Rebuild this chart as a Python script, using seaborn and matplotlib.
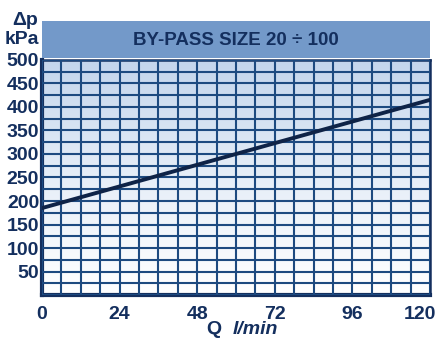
import numpy as np
import pandas as pd
import matplotlib
matplotlib.use("Agg")
import matplotlib.pyplot as plt
import matplotlib.transforms as mtransforms
import seaborn as sns

# data
flow = [0, 120]
dp = [185, 415]
x_ticks = [0, 24, 48, 72, 96, 120]
y_ticks = [50, 100, 150, 200, 250, 300, 350, 400, 450, 500]
title = "BY-PASS SIZE 20 \u00f7 100"

navy = "#142f5e"
grid_col = "#1d4a80"

sns.set_theme(style="white")
plt.rcParams['font.family'] = ['Liberation Sans', 'DejaVu Sans']

fig = plt.figure(figsize=(4.39, 3.40), dpi=100)
ax = fig.add_axes([0.0957, 0.132, 0.884, 0.692])

# gradient background
grad = np.linspace(1, 0, 256).reshape(-1, 1)
cmap = matplotlib.colors.LinearSegmentedColormap.from_list(
    "bg", ["#ffffff", "#e6eef8", "#c3d5ec"])
ax.imshow(grad, extent=[0, 120, 0, 500], aspect="auto", cmap=cmap,
          origin="upper", zorder=0)

ax.set_xlim(0, 120)
ax.set_ylim(0, 500)
ax.set_xticks(np.arange(0, 121, 6), minor=True)
ax.set_yticks(np.arange(0, 501, 25), minor=True)
ax.set_xticks(x_ticks)
ax.set_yticks(y_ticks)
ax.grid(which="both", color=grid_col, lw=1.5, zorder=1)
ax.set_axisbelow(False)

df = pd.DataFrame({"Q": flow, "dp": dp})
sns.lineplot(data=df, x="Q", y="dp", color="#0e2347", lw=2.8, ax=ax, zorder=3)

ax.tick_params(which="both", length=0)
ax.tick_params(axis="x", pad=8)
ax.tick_params(axis="y", pad=2)
for lab in ax.get_xticklabels() + ax.get_yticklabels():
    lab.set_fontsize(14)
    lab.set_fontweight("bold")
    lab.set_color(navy)
last = ax.get_xticklabels()[-1]
last.set_horizontalalignment("right")
last.set_transform(last.get_transform() +
                   mtransforms.ScaledTranslation(6 / 100, 0, fig.dpi_scale_trans))
ax.set_xlabel("")
ax.set_ylabel("")

for side in ["left", "bottom"]:
    ax.spines[side].set_linewidth(3)
    ax.spines[side].set_color(navy)
for side in ["right", "top"]:
    ax.spines[side].set_linewidth(1.8)
    ax.spines[side].set_color(navy)

# header band
hdr = fig.add_axes([0.0957, 0.828, 0.884, 0.11])
hdr.set_facecolor("#7399c9")
hdr.set_xticks([])
hdr.set_yticks([])
for s in hdr.spines.values():
    s.set_visible(False)
hdr.text(0.5, 0.48, title, ha="center", va="center", fontsize=13.5,
         fontweight="bold", color=navy, transform=hdr.transAxes)

fig.text(0.057, 0.94, "\u0394p", ha="center", va="center", fontsize=14,
         fontweight="bold", color=navy)
fig.text(0.05, 0.885, "kPa", ha="center", va="center", fontsize=14,
         fontweight="bold", color=navy)
fig.text(0.487, 0.03, "Q", ha="center", va="center", fontsize=14,
         fontweight="bold", color=navy)
fig.text(0.53, 0.03, "l/min", ha="left", va="center", fontsize=14,
         fontweight="bold", color=navy, style="italic")

fig.savefig("out.png", dpi=100)
